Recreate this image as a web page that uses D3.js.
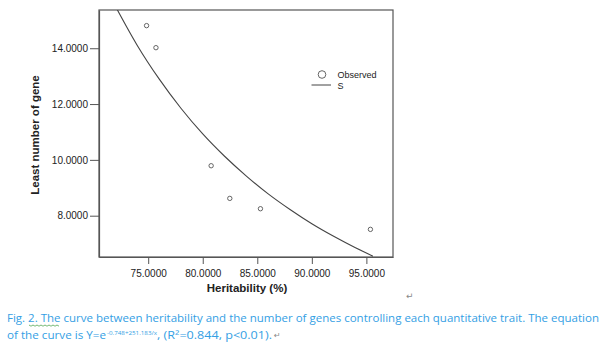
<!DOCTYPE html>
<html><head><meta charset="utf-8">
<script src="https://cdn.jsdelivr.net/npm/d3@7"></script>
<style>html,body{margin:0;padding:0;background:#fff;}svg{display:block;}</style>
</head><body>
<svg id="c" width="607" height="346"></svg>
<script>
// Observed points
const heritability = [74.85, 75.71, 80.77, 82.48, 85.29, 95.37];
const leastGenes   = [14.81, 14.02, 9.79, 8.62, 8.25, 7.51];
// Fitted S curve
const curveX = [72, 74, 76, 78, 80, 82, 84, 86, 88, 90, 92, 94, 95.6];
const curveY = [15.50, 14.10, 12.90, 11.85, 10.93, 10.13, 9.42, 8.78, 8.22, 7.71, 7.26, 6.85, 6.55];
const xTicks = [75, 80, 85, 90, 95];
const yTicks = [8, 10, 12, 14];
const legendLabels = ["Observed", "S"];
const xTitle = "Heritability (%)";
const yTitle = "Least number of gene";

const svg = d3.select("#c");
const L = 99, R = 393, T = 10, B = 257;
const x = d3.scaleLinear().domain([70.49, 97.44]).range([L, R]);
const y = d3.scaleLinear().domain([6.52, 15.37]).range([B, T]);
const fmt = d3.format(".4f");
const axisFont = "'Liberation Sans', Arial, Helvetica, sans-serif";

svg.append("defs").append("clipPath").attr("id","clip")
  .append("rect").attr("x",L).attr("y",T).attr("width",R-L).attr("height",B-T);

// frame
svg.append("rect").attr("x",L).attr("y",T).attr("width",R-L).attr("height",B-T)
  .attr("fill","none").attr("stroke","#555").attr("stroke-width",1.2);

const gx = svg.append("g").attr("transform",`translate(0,${B})`)
  .call(d3.axisBottom(x).tickValues(xTicks).tickFormat(fmt).tickSize(7).tickSizeOuter(0));
const gy = svg.append("g").attr("transform",`translate(${L},0)`)
  .call(d3.axisLeft(y).tickValues(yTicks).tickFormat(fmt).tickSize(9).tickSizeOuter(0));
[gx, gy].forEach(g => {
  g.attr("font-family", null).attr("font-size", null);
  g.select(".domain").attr("stroke","#555").attr("stroke-width",1.2);
  g.selectAll(".tick line").attr("stroke","#555");
  g.selectAll("text").attr("fill","#222").style("font-family",axisFont).style("font-size","10px");
});
gx.selectAll("text").attr("dy","0").attr("y",20);
gy.selectAll("text").attr("x",-11);

// titles
svg.append("text").attr("x",247).attr("y",292).attr("text-anchor","middle")
  .style("font-family",axisFont).style("font-size","11.5px").style("font-weight","bold").attr("fill","#222")
  .text(xTitle);
svg.append("text").attr("transform","translate(39,135) rotate(-90)").attr("text-anchor","middle")
  .style("font-family",axisFont).style("font-size","11.5px").style("font-weight","bold").attr("fill","#222")
  .text(yTitle);

// curve
const line = d3.line().x(d=>x(d[0])).y(d=>y(d[1])).curve(d3.curveMonotoneX);
svg.append("path").attr("clip-path","url(#clip)")
  .datum(curveX.map((v,i)=>[v,curveY[i]]))
  .attr("d",line).attr("fill","none").attr("stroke","#444").attr("stroke-width",1.1);

// points
svg.append("g").selectAll("circle").data(heritability.map((v,i)=>[v,leastGenes[i]]))
  .join("circle").attr("cx",d=>x(d[0])).attr("cy",d=>y(d[1])).attr("r",2.2)
  .attr("fill","none").attr("stroke","#555").attr("stroke-width",0.9);

// legend
svg.append("circle").attr("cx",322).attr("cy",74.5).attr("r",3.8)
  .attr("fill","none").attr("stroke","#555").attr("stroke-width",0.9);
svg.append("line").attr("x1",311.5).attr("x2",331).attr("y1",85).attr("y2",85)
  .attr("stroke","#444").attr("stroke-width",1);
svg.selectAll(".lg").data(legendLabels).join("text")
  .attr("x",337.5).attr("y",(d,i)=>78+i*11)
  .style("font-family",axisFont).style("font-size","9px").attr("fill","#222").text(d=>d);

// paragraph marks
svg.append("text").attr("x",406).attr("y",299).style("font-size","9px").attr("fill","#888")
  .style("font-family","DejaVu Sans").text("\u21B5");

// caption
const capColor = "#34A0E4";
const capFont = "'Open Sans', sans-serif";
svg.append("text").attr("x",7).attr("y",322).attr("fill",capColor)
  .style("font-family",capFont).style("font-size","10.5px")
  .attr("textLength",592).attr("lengthAdjust","spacingAndGlyphs")
  .text("Fig. 2. The curve between heritability and the number of genes controlling each quantitative  trait. The equation");
const t2 = svg.append("text").attr("x",7).attr("y",339).attr("fill",capColor)
  .style("font-family",capFont).style("font-size","10.5px");
t2.append("tspan").attr("textLength",99).attr("lengthAdjust","spacingAndGlyphs").text("of the curve is Y=e");
t2.append("tspan").attr("x",107).attr("dy",-4).style("font-size","6px")
  .attr("textLength",50).attr("lengthAdjust","spacingAndGlyphs").text("-0.748+251.183/x");
t2.append("tspan").attr("x",157).attr("dy",4)
  .attr("textLength",115).attr("lengthAdjust","spacingAndGlyphs").text(",  (R\u00B2=0.844, p<0.01).");
svg.append("text").attr("x",274).attr("y",338).style("font-size","8px").attr("fill","#888")
  .style("font-family","DejaVu Sans").text("\u21B5");
// spell-check squiggle
const sq = d3.range(0, 16).map(i => [29 + i*2, 325 + (i%2 ? 1.2 : 0)]);
svg.append("path").attr("d", d3.line()(sq)).attr("fill","none").attr("stroke","#3a9a3a").attr("stroke-width",0.7);
</script>
</body></html>
